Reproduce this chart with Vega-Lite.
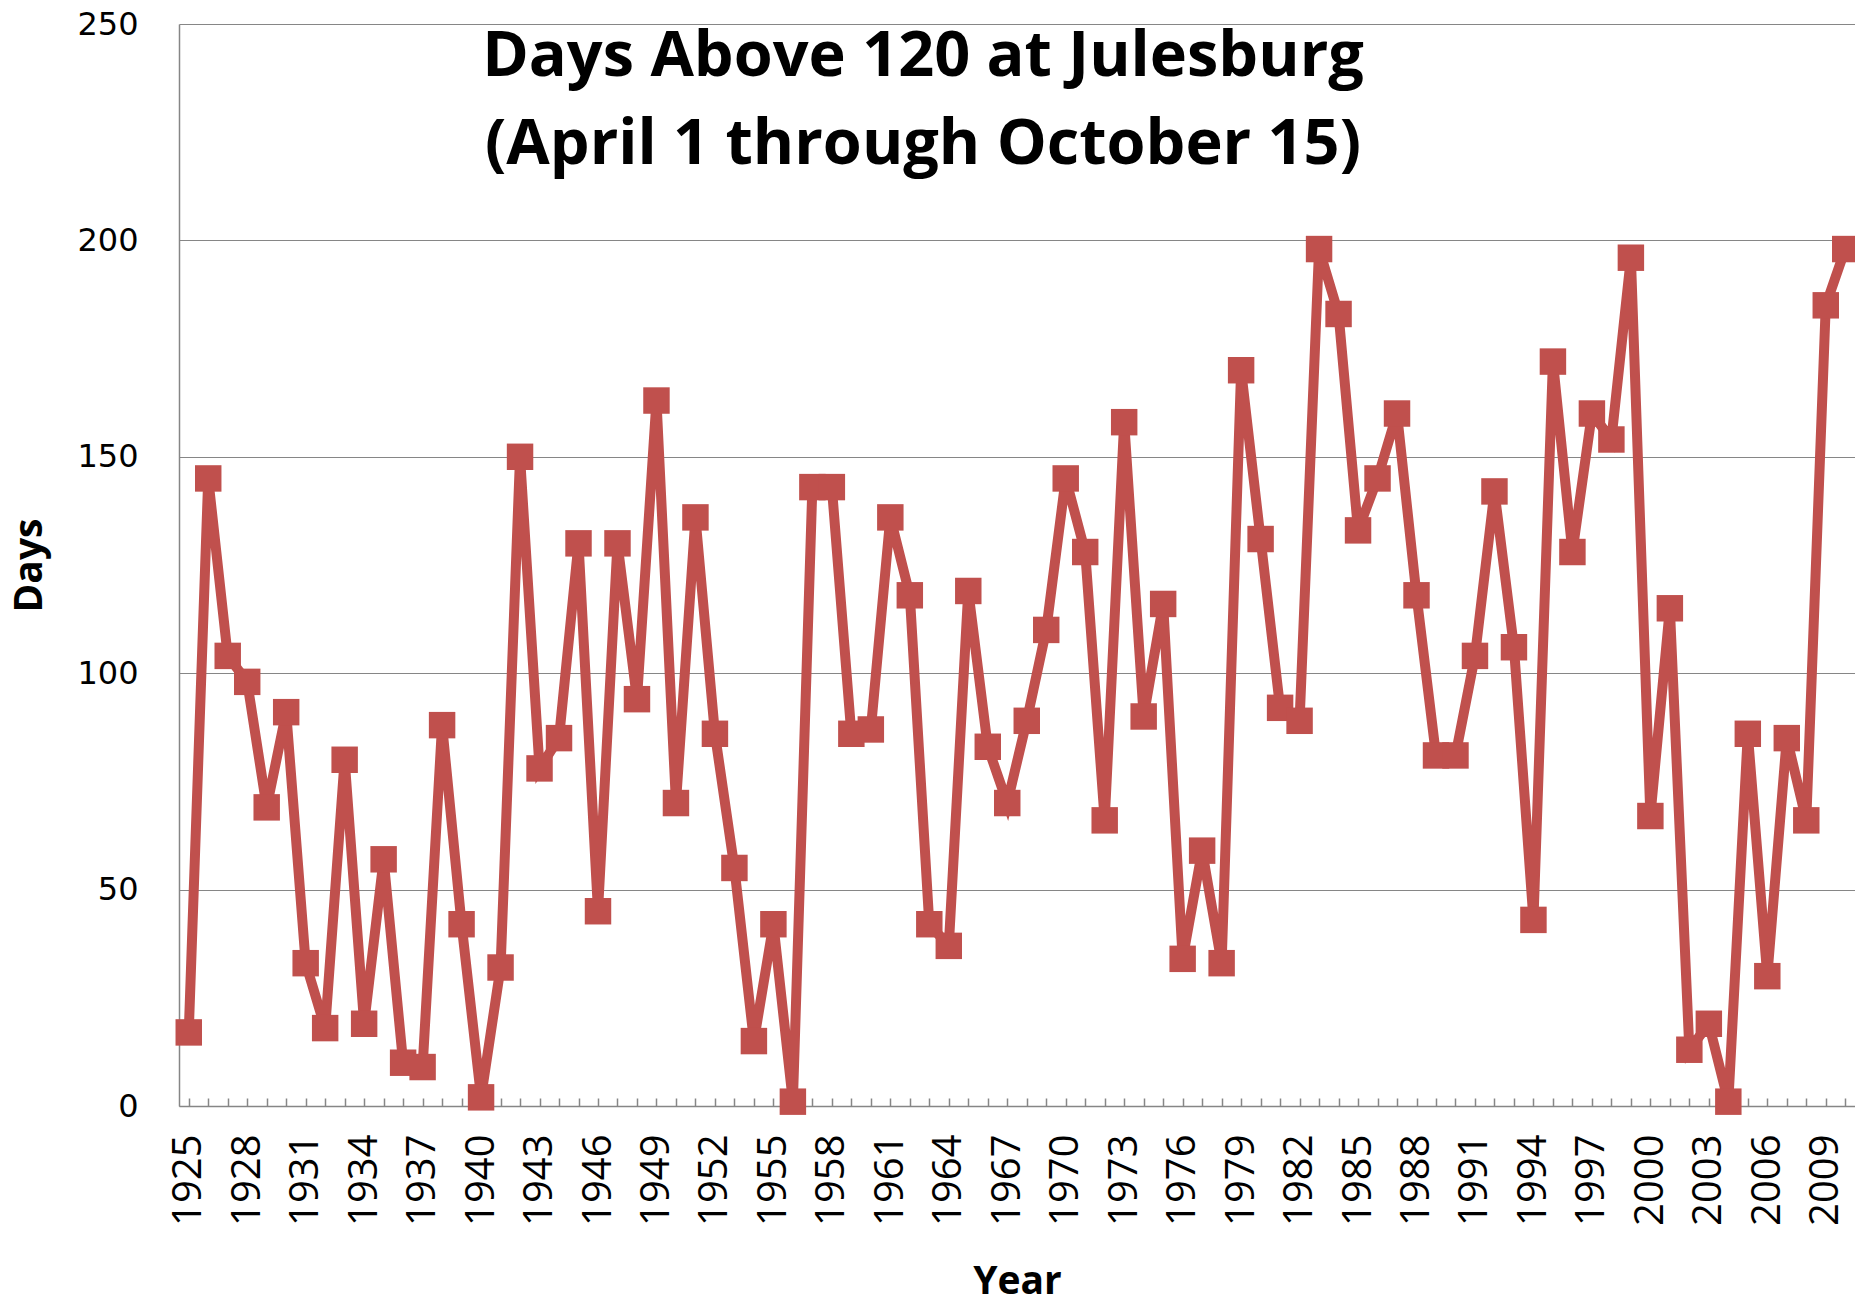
{
  "$schema": "https://vega.github.io/schema/vega-lite/v6.json",
  "autosize": "none",
  "width": 1676,
  "height": 1082,
  "padding": {"left": 179, "top": 24, "right": 0, "bottom": 198},
  "background": "white",
  "config": {"view": {"stroke": null}},
  "title": {
    "text": ["Days Above 120 at Julesburg", "(April 1 through October 15)"],
    "font": "Open Sans",
    "fontWeight": "bold",
    "fontSize": 63,
    "lineHeight": 88,
    "color": "black",
    "anchor": "middle",
    "frame": "group",
    "baseline": "top",
    "offset": 0,
    "dx": -94,
    "dy": 169
  },
  "data": {
    "values": [
      {"year": 1925, "days": 17}, {"year": 1926, "days": 145}, {"year": 1927, "days": 104},
      {"year": 1928, "days": 98}, {"year": 1929, "days": 69}, {"year": 1930, "days": 91},
      {"year": 1931, "days": 33}, {"year": 1932, "days": 18}, {"year": 1933, "days": 80},
      {"year": 1934, "days": 19}, {"year": 1935, "days": 57}, {"year": 1936, "days": 10},
      {"year": 1937, "days": 9}, {"year": 1938, "days": 88}, {"year": 1939, "days": 42},
      {"year": 1940, "days": 2}, {"year": 1941, "days": 32}, {"year": 1942, "days": 150},
      {"year": 1943, "days": 78}, {"year": 1944, "days": 85}, {"year": 1945, "days": 130},
      {"year": 1946, "days": 45}, {"year": 1947, "days": 130}, {"year": 1948, "days": 94},
      {"year": 1949, "days": 163}, {"year": 1950, "days": 70}, {"year": 1951, "days": 136},
      {"year": 1952, "days": 86}, {"year": 1953, "days": 55}, {"year": 1954, "days": 15},
      {"year": 1955, "days": 42}, {"year": 1956, "days": 1}, {"year": 1957, "days": 143},
      {"year": 1958, "days": 143}, {"year": 1959, "days": 86}, {"year": 1960, "days": 87},
      {"year": 1961, "days": 136}, {"year": 1962, "days": 118}, {"year": 1963, "days": 42},
      {"year": 1964, "days": 37}, {"year": 1965, "days": 119}, {"year": 1966, "days": 83},
      {"year": 1967, "days": 70}, {"year": 1968, "days": 89}, {"year": 1969, "days": 110},
      {"year": 1970, "days": 145}, {"year": 1971, "days": 128}, {"year": 1972, "days": 66},
      {"year": 1973, "days": 158}, {"year": 1974, "days": 90}, {"year": 1975, "days": 116},
      {"year": 1976, "days": 34}, {"year": 1977, "days": 59}, {"year": 1978, "days": 33},
      {"year": 1979, "days": 170}, {"year": 1980, "days": 131}, {"year": 1981, "days": 92},
      {"year": 1982, "days": 89}, {"year": 1983, "days": 198}, {"year": 1984, "days": 183},
      {"year": 1985, "days": 133}, {"year": 1986, "days": 145}, {"year": 1987, "days": 160},
      {"year": 1988, "days": 118}, {"year": 1989, "days": 81}, {"year": 1990, "days": 81},
      {"year": 1991, "days": 104}, {"year": 1992, "days": 142}, {"year": 1993, "days": 106},
      {"year": 1994, "days": 43}, {"year": 1995, "days": 172}, {"year": 1996, "days": 128},
      {"year": 1997, "days": 160}, {"year": 1998, "days": 154}, {"year": 1999, "days": 196},
      {"year": 2000, "days": 67}, {"year": 2001, "days": 115}, {"year": 2002, "days": 13},
      {"year": 2003, "days": 19}, {"year": 2004, "days": 1}, {"year": 2005, "days": 86},
      {"year": 2006, "days": 30}, {"year": 2007, "days": 85}, {"year": 2008, "days": 66},
      {"year": 2009, "days": 185}, {"year": 2010, "days": 198}
    ]
  },
  "encoding": {
    "x": {
      "field": "year",
      "type": "ordinal",
      "scale": {"type": "point", "padding": 0.5},
      "axis": {
        "title": "Year",
        "titleFont": "Open Sans",
        "titleFontWeight": "bold",
        "titleFontSize": 39,
        "titleColor": "black",
        "titleY": 175,
        "titleBaseline": "middle",
        "labelAngle": -90,
        "labelFont": "Open Sans",
        "labelFontSize": 40,
        "labelColor": "black",
        "labelPadding": 36,
        "labelOverlap": false,
        "labelExpr": "(datum.value - 1925) % 3 == 0 ? datum.value : ''",
        "domainColor": "#868686",
        "domainWidth": 1.5,
        "tickColor": "#868686",
        "tickWidth": 1.5,
        "tickSize": -8,
        "grid": false
      }
    },
    "y": {
      "field": "days",
      "type": "quantitative",
      "scale": {"domain": [0, 250], "nice": false},
      "axis": {
        "title": "Days",
        "titleFont": "Open Sans",
        "titleFontWeight": "bold",
        "titleFontSize": 39,
        "titleColor": "black",
        "titleX": -150,
        "titleY": 541,
        "titleAlign": "center",
        "titleBaseline": "middle",
        "values": [0, 50, 100, 150, 200, 250],
        "labelFont": "DejaVu Sans",
        "labelFontSize": 32,
        "labelColor": "black",
        "labelPadding": 41,
        "ticks": false,
        "domainColor": "#868686",
        "domainWidth": 1.5,
        "grid": true,
        "gridColor": "#868686",
        "gridWidth": 1.2
      }
    }
  },
  "layer": [
    {"mark": {"type": "line", "color": "#C0504D", "strokeWidth": 10}},
    {"mark": {"type": "point", "shape": "square", "filled": true, "size": 700, "color": "#C0504D", "opacity": 1}}
  ]
}
